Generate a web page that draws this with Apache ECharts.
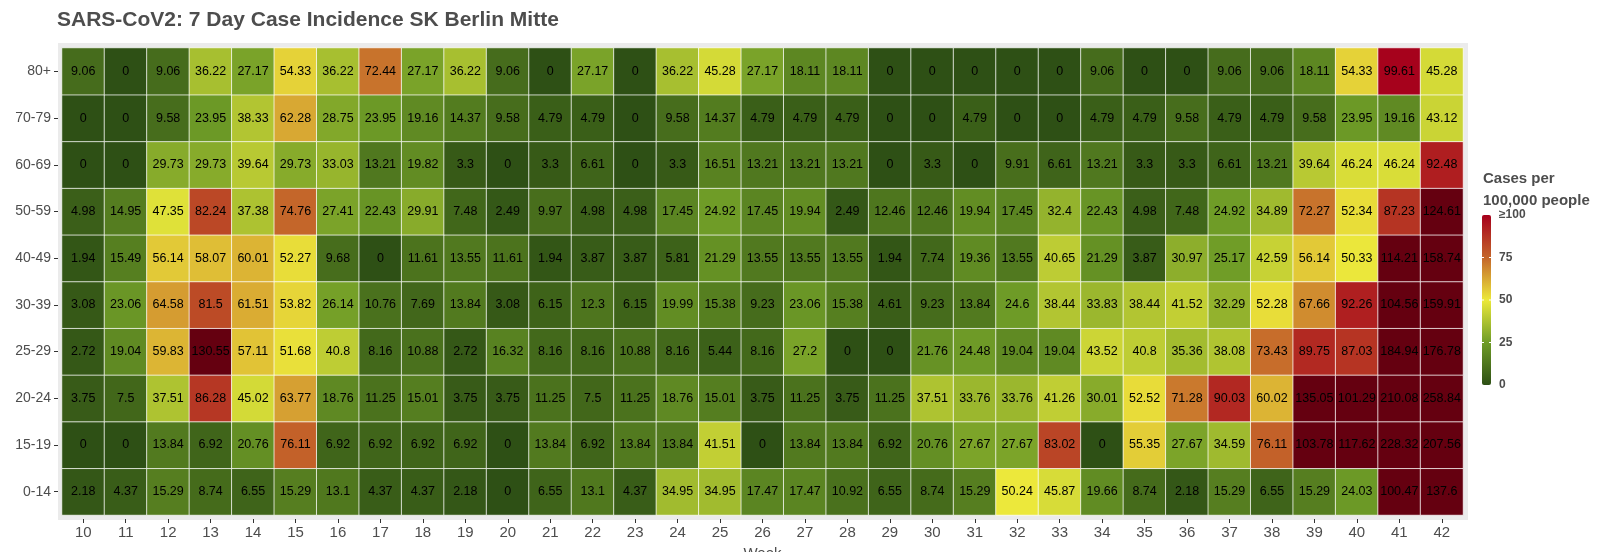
<!DOCTYPE html>
<html>
<head>
<meta charset="utf-8">
<script src="https://cdn.jsdelivr.net/npm/echarts@6/dist/echarts.min.js"></script>
<style>
    html, body { margin: 0; padding: 0; background: #fff; }
    #heat_chart { width: 1600px; height: 552px; }
</style>
</head>
<body>
<div id="heat_chart"></div>
<script>
// weeks on the x axis
const weeks = [10, 11, 12, 13, 14, 15, 16, 17, 18, 19, 20, 21, 22, 23, 24, 25, 26, 27, 28, 29, 30, 31, 32, 33, 34, 35, 36, 37, 38, 39, 40, 41, 42]
// age groups, bottom to top
const ageGroups = ['0-14', '15-19', '20-24', '25-29', '30-39', '40-49', '50-59', '60-69', '70-79', '80+']

// 7 day incidence per 100,000, one array per age group (week 10 .. 42)
const age0_14 = [2.18, 4.37, 15.29, 8.74, 6.55, 15.29, 13.1, 4.37, 4.37, 2.18, 0, 6.55, 13.1, 4.37, 34.95, 34.95, 17.47, 17.47, 10.92, 6.55, 8.74, 15.29, 50.24, 45.87, 19.66, 8.74, 2.18, 15.29, 6.55, 15.29, 24.03, 100.47, 137.6]
const age15_19 = [0, 0, 13.84, 6.92, 20.76, 76.11, 6.92, 6.92, 6.92, 6.92, 0, 13.84, 6.92, 13.84, 13.84, 41.51, 0, 13.84, 13.84, 6.92, 20.76, 27.67, 27.67, 83.02, 0, 55.35, 27.67, 34.59, 76.11, 103.78, 117.62, 228.32, 207.56]
const age20_24 = [3.75, 7.5, 37.51, 86.28, 45.02, 63.77, 18.76, 11.25, 15.01, 3.75, 3.75, 11.25, 7.5, 11.25, 18.76, 15.01, 3.75, 11.25, 3.75, 11.25, 37.51, 33.76, 33.76, 41.26, 30.01, 52.52, 71.28, 90.03, 60.02, 135.05, 101.29, 210.08, 258.84]
const age25_29 = [2.72, 19.04, 59.83, 130.55, 57.11, 51.68, 40.8, 8.16, 10.88, 2.72, 16.32, 8.16, 8.16, 10.88, 8.16, 5.44, 8.16, 27.2, 0, 0, 21.76, 24.48, 19.04, 19.04, 43.52, 40.8, 35.36, 38.08, 73.43, 89.75, 87.03, 184.94, 176.78]
const age30_39 = [3.08, 23.06, 64.58, 81.5, 61.51, 53.82, 26.14, 10.76, 7.69, 13.84, 3.08, 6.15, 12.3, 6.15, 19.99, 15.38, 9.23, 23.06, 15.38, 4.61, 9.23, 13.84, 24.6, 38.44, 33.83, 38.44, 41.52, 32.29, 52.28, 67.66, 92.26, 104.56, 159.91]
const age40_49 = [1.94, 15.49, 56.14, 58.07, 60.01, 52.27, 9.68, 0, 11.61, 13.55, 11.61, 1.94, 3.87, 3.87, 5.81, 21.29, 13.55, 13.55, 13.55, 1.94, 7.74, 19.36, 13.55, 40.65, 21.29, 3.87, 30.97, 25.17, 42.59, 56.14, 50.33, 114.21, 158.74]
const age50_59 = [4.98, 14.95, 47.35, 82.24, 37.38, 74.76, 27.41, 22.43, 29.91, 7.48, 2.49, 9.97, 4.98, 4.98, 17.45, 24.92, 17.45, 19.94, 2.49, 12.46, 12.46, 19.94, 17.45, 32.4, 22.43, 4.98, 7.48, 24.92, 34.89, 72.27, 52.34, 87.23, 124.61]
const age60_69 = [0, 0, 29.73, 29.73, 39.64, 29.73, 33.03, 13.21, 19.82, 3.3, 0, 3.3, 6.61, 0, 3.3, 16.51, 13.21, 13.21, 13.21, 0, 3.3, 0, 9.91, 6.61, 13.21, 3.3, 3.3, 6.61, 13.21, 39.64, 46.24, 46.24, 92.48]
const age70_79 = [0, 0, 9.58, 23.95, 38.33, 62.28, 28.75, 23.95, 19.16, 14.37, 9.58, 4.79, 4.79, 0, 9.58, 14.37, 4.79, 4.79, 4.79, 0, 0, 4.79, 0, 0, 4.79, 4.79, 9.58, 4.79, 4.79, 9.58, 23.95, 19.16, 43.12]
const age80plus = [9.06, 0, 9.06, 36.22, 27.17, 54.33, 36.22, 72.44, 27.17, 36.22, 9.06, 0, 27.17, 0, 36.22, 45.28, 27.17, 18.11, 18.11, 0, 0, 0, 0, 0, 9.06, 0, 0, 9.06, 9.06, 18.11, 54.33, 99.61, 45.28]

// colour scale 0 / 25 / 50 / 75 / 100, values above 100 get the dark colour
const scaleColors = ['#2e5015', '#6f9c27', '#ece93b', '#c4652a', '#a6001c']
const overColor = '#650010'
const legendTicks = ['0', '25', '50', '75', '≥100']

const rows = [age0_14, age15_19, age20_24, age25_29, age30_39, age40_49, age50_59, age60_69, age70_79, age80plus]
const heatData = []
rows.forEach((row, y) => {
    row.forEach((v, x) => {
        heatData.push([x, y, v])
    })
})

const textGray = '#4d4d4d'
const fontFam = '"Liberation Sans", Arial, sans-serif'

// colour bar legend
const barX = 1482
const barTop = 215
const barH = 170
const legendEls = [
    {
        type: 'text',
        left: 1483,
        top: 168,
        style: {
            text: 'Cases per\n100,000 people',
            font: 'bold 15px ' + fontFam,
            fill: textGray,
            lineHeight: 22
        }
    },
    {
        type: 'rect',
        shape: { x: barX, y: barTop, width: 9, height: barH, r: 2 },
        style: {
            fill: new echarts.graphic.LinearGradient(0, 1, 0, 0,
                scaleColors.map((c, i) => ({ offset: i / (scaleColors.length - 1), color: c })))
        }
    }
]
legendTicks.forEach((t, i) => {
    const y = barTop + barH - (barH * i) / (legendTicks.length - 1)
    legendEls.push({
        type: 'text',
        x: 1499,
        y: y,
        style: {
            text: t,
            font: 'bold 12px ' + fontFam,
            fill: textGray,
            verticalAlign: 'middle'
        }
    })
    if (i > 0 && i < legendTicks.length - 1) {
        legendEls.push({ type: 'line', shape: { x1: barX, y1: y, x2: barX + 2, y2: y }, style: { stroke: '#fff', lineWidth: 1 } })
        legendEls.push({ type: 'line', shape: { x1: barX + 7, y1: y, x2: barX + 9, y2: y }, style: { stroke: '#fff', lineWidth: 1 } })
    }
})

const myChart = echarts.init(document.getElementById('heat_chart'))
const option = {
    animation: false,
    backgroundColor: '#fff',
    textStyle: { fontFamily: fontFam },
    title: {
        text: 'SARS-CoV2: 7 Day Case Incidence SK Berlin Mitte',
        left: 57,
        top: 10,
        padding: 0,
        textStyle: {
            color: textGray,
            fontSize: 21,
            fontWeight: 'bold',
            fontFamily: fontFam
        }
    },
    grid: {
        left: 62,
        top: 48,
        right: 137,
        height: 467,
        outerBoundsMode: 'none'
    },
    xAxis: {
        type: 'category',
        data: weeks,
        offset: 4,
        name: 'Week',
        nameLocation: 'middle',
        nameGap: 27,
        nameTextStyle: { color: textGray, fontSize: 15 },
        axisLine: { show: false },
        axisTick: { show: true, alignWithLabel: true, length: 4, lineStyle: { color: '#333' } },
        axisLabel: { color: textGray, fontSize: 15, margin: 6 },
        splitLine: { show: false }
    },
    yAxis: {
        type: 'category',
        data: ageGroups,
        offset: 4,
        axisLine: { show: false },
        axisTick: { show: true, alignWithLabel: true, length: 4, lineStyle: { color: '#333' } },
        axisLabel: { color: textGray, fontSize: 14, margin: 7 },
        splitLine: { show: false }
    },
    visualMap: {
        type: 'continuous',
        show: false,
        min: 0,
        max: 100,
        range: [0, 99.99],
        dimension: 2,
        inRange: { color: scaleColors },
        outOfRange: { color: overColor }
    },
    graphic: [
        {
            type: 'rect',
            z: -10,
            shape: { x: 58, y: 43, width: 1410, height: 477 },
            style: { fill: '#ebebeb' },
            silent: true
        },
        ...legendEls
    ],
    series: [
        {
            type: 'heatmap',
            data: heatData,
            z: 5,
            itemStyle: {
                borderColor: 'rgba(255,255,255,0.75)',
                borderWidth: 1
            },
            label: {
                show: true,
                color: '#000',
                fontSize: 12.5,
                formatter: (p) => String(p.value[2])
            },
            emphasis: { disabled: true }
        }
    ]
}
myChart.setOption(option)
</script>
</body>
</html>
